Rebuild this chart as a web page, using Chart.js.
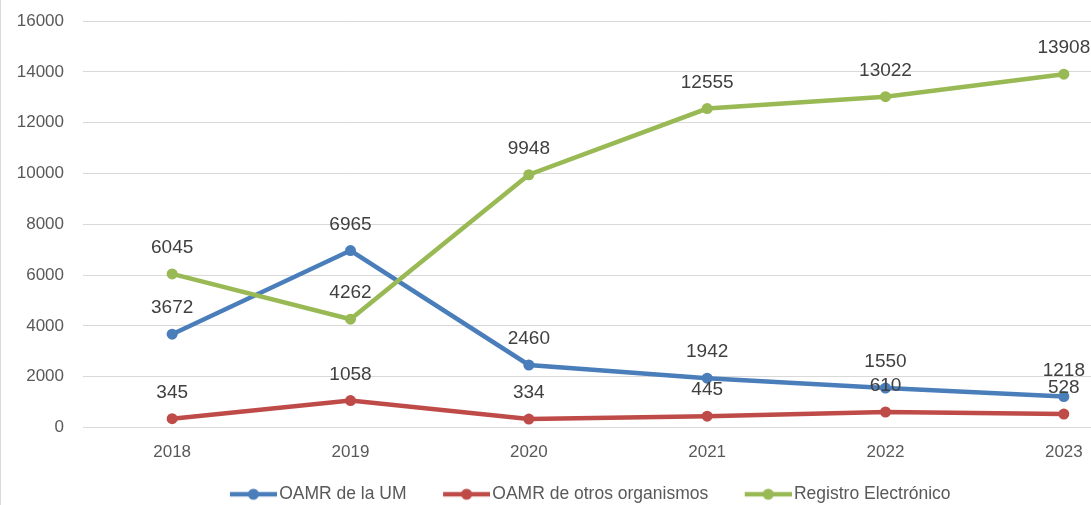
<!DOCTYPE html>
<html lang="es">
<head>
<meta charset="utf-8">
<title>Registros por año</title>
<script src="https://cdn.jsdelivr.net/npm/chart.js@4/dist/chart.umd.min.js"></script>
<style>
  html, body { margin: 0; padding: 0; background: #fff; overflow: hidden; }
  #marco { border-left: 1px solid #d9d9d9; width: 1160px; height: 513px; }
  #chartRegistros { display: block; }
</style>
</head>
<body>
<div id="marco">
  <canvas id="chartRegistros" width="1160" height="513"></canvas>
</div>
<script>
// Datos
const anios = ['2018', '2019', '2020', '2021', '2022', '2023'];
const oamrUM = [3672, 6965, 2460, 1942, 1550, 1218];
const oamrOtros = [345, 1058, 334, 445, 610, 528];
const registroElectronico = [6045, 4262, 9948, 12555, 13022, 13908];
const ticksY = [0, 2000, 4000, 6000, 8000, 10000, 12000, 14000, 16000];

const colores = ['#4a7ebb', '#be4b48', '#98b954'];
const fuente = '"Liberation Sans", Arial, sans-serif';

// Icono de la leyenda: línea con punto (con margen transparente a la izquierda)
function iconoLeyenda(color) {
  const c = document.createElement('canvas');
  c.width = 80;
  c.height = 16;
  const g = c.getContext('2d');
  g.strokeStyle = color;
  g.lineWidth = 4.5;
  g.beginPath();
  g.moveTo(33, 8);
  g.lineTo(80, 8);
  g.stroke();
  g.fillStyle = color;
  g.beginPath();
  g.arc(56.5, 8, 5.5, 0, Math.PI * 2);
  g.fill();
  return c;
}

// Etiquetas de valores sobre cada punto
const etiquetasDatos = {
  id: 'etiquetasDatos',
  afterDatasetsDraw(chart, args, opts) {
    const ctx = chart.ctx;
    ctx.save();
    ctx.font = opts.size + 'px ' + fuente;
    ctx.fillStyle = opts.color;
    ctx.textAlign = 'center';
    ctx.textBaseline = 'middle';
    chart.data.datasets.forEach((ds, i) => {
      const meta = chart.getDatasetMeta(i);
      meta.data.forEach((pt, j) => {
        ctx.fillText(String(ds.data[j]), pt.x, pt.y - opts.offset);
      });
    });
    ctx.restore();
  }
};

function serie(label, data, color, orden) {
  return {
    label: label,
    data: data,
    borderColor: color,
    backgroundColor: color,
    borderWidth: 4.5,
    pointRadius: 5.5,
    pointHoverRadius: 5.5,
    pointBorderWidth: 0,
    pointBackgroundColor: color,
    tension: 0,
    order: orden
  };
}

const canvas = document.getElementById('chartRegistros');

window._chartRegistros = new Chart(canvas, {
  type: 'line',
  data: {
    labels: anios,
    datasets: [
      serie('OAMR de la UM', oamrUM, colores[0], 3),
      serie('OAMR de otros organismos', oamrOtros, colores[1], 2),
      serie('Registro Electrónico', registroElectronico, colores[2], 1)
    ]
  },
  plugins: [etiquetasDatos],
  options: {
    responsive: false,
    animation: false,
    devicePixelRatio: 1,
    layout: {
      padding: { top: 21, right: 8, bottom: 0, left: 0 }
    },
    scales: {
      x: {
        offset: true,
        grid: { display: false, drawTicks: false },
        border: { display: false },
        ticks: {
          padding: 15,
          color: '#595959',
          font: { family: fuente, size: 17 }
        },
        afterFit(scale) { scale.height = 48; }
      },
      y: {
        min: ticksY[0],
        max: ticksY[ticksY.length - 1],
        // marca de tick invisible para separar las etiquetas del área
        grid: { color: '#d9d9d9', lineWidth: 1, drawTicks: true, tickLength: 19, tickColor: 'rgba(0,0,0,0)' },
        border: { display: false },
        afterBuildTicks(scale) {
          scale.ticks = ticksY.map(v => ({ value: v }));
        },
        ticks: {
          padding: 0,
          color: '#595959',
          font: { family: fuente, size: 17 },
          callback: v => String(v)
        },
        afterFit(scale) { scale.width = 82; }
      }
    },
    plugins: {
      legend: {
        position: 'bottom',
        labels: {
          usePointStyle: true,
          pointStyleWidth: 67,
          padding: 10,
          color: '#595959',
          font: { family: fuente, size: 17.5 },
          sort: (a, b) => a.datasetIndex - b.datasetIndex,
          generateLabels(chart) {
            const items = Chart.defaults.plugins.legend.labels.generateLabels(chart);
            items.forEach(it => {
              it.pointStyle = iconoLeyenda(colores[it.datasetIndex]);
            });
            return items;
          }
        }
      },
      tooltip: { enabled: false },
      etiquetasDatos: { size: 19, color: '#404040', offset: 26 }
    }
  }
});
</script>
</body>
</html>
